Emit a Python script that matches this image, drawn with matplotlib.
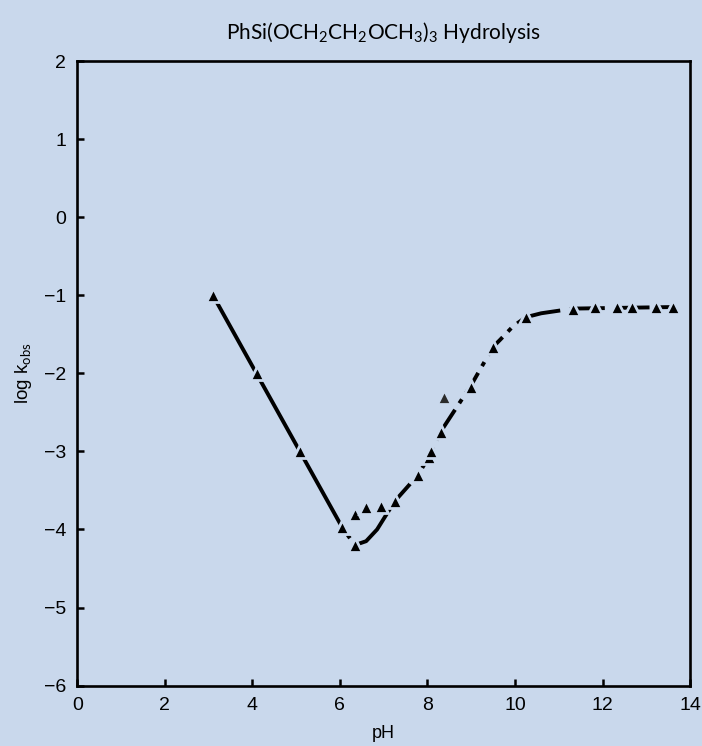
import numpy as np
import matplotlib.pyplot as plt

plt.rcParams["mathtext.fontset"] = "custom"
plt.rcParams["mathtext.rm"] = "Lato"
plt.rcParams["mathtext.default"] = "rm"

bg = "#c9d8ec"

# measured points (pH, log k_obs)
ph = [3.1, 4.1, 5.1, 6.05, 6.34, 6.34, 6.6, 6.95, 7.25, 7.79, 8.04, 8.09,
      8.30, 9.0, 9.5, 10.25, 11.33, 11.83, 12.32, 12.67, 13.23, 13.62]
logk = [-1.0, -2.0, -3.0, -3.97, -4.2, -3.8, -3.71, -3.70, -3.64, -3.30, -3.07, -3.0,
        -2.75, -2.17, -1.66, -1.28, -1.17, -1.15, -1.15, -1.15, -1.15, -1.15]

# stray grey point
ph_out = [8.38]
logk_out = [-2.30]

# fitted curve in pieces
acid_x = [3.1, 6.05]
acid_y = [-1.0, -3.97]
dip_x = [6.05, 6.34]
dip_y = [-3.97, -4.2]
bottom_x = [6.34, 6.6, 6.85, 7.05, 7.25]
bottom_y = [-4.2, -4.15, -4.0, -3.82, -3.64]
base_x = [7.25, 7.79, 8.05, 8.3, 9.0, 9.5, 9.66, 9.95, 10.25]
base_y = [-3.64, -3.30, -3.05, -2.75, -2.15, -1.66, -1.57, -1.40, -1.28]
flat_x = [10.25, 10.6, 11.33, 13.62]
flat_y = [-1.28, -1.23, -1.17, -1.15]

fig = plt.figure(figsize=(7.02, 7.46), dpi=100, facecolor=bg)
ax = fig.add_axes([0.11, 0.081, 0.873, 0.837], facecolor=bg)

lw = 2.8
ax.plot(acid_x, acid_y, color="black", lw=lw, solid_capstyle="butt")
ax.plot(dip_x, dip_y, color="black", lw=lw, linestyle=(0, (1, 1.5)))
ax.plot(bottom_x, bottom_y, color="black", lw=lw)
ax.plot(base_x, base_y, color="black", lw=lw, linestyle=(0, (6, 2, 1.2, 2)))
ax.plot(flat_x, flat_y, color="black", lw=lw, linestyle=(0, (9, 2.5)))

ax.plot(ph, logk, linestyle="none", marker="^", ms=10.5, color="black",
        markeredgecolor=bg, markeredgewidth=2.0, zorder=5)
ax.plot(ph_out, logk_out, linestyle="none", marker="^", ms=10.5, color="#2a2a2a",
        markeredgecolor=bg, markeredgewidth=2.0, zorder=5)

ax.set_xlim(0, 14)
ax.set_ylim(-6, 2)
ax.set_xticks(np.arange(0, 15, 2))
ax.set_yticks(np.arange(-6, 3, 1))
ax.tick_params(direction="in", length=5, width=1.8, labelsize=14, pad=8,
               top=False, right=False)
for lab in ax.get_xticklabels() + ax.get_yticklabels():
    lab.set_family("Liberation Sans")
for s in ax.spines.values():
    s.set_linewidth(1.9)

ax.set_xlabel("pH", fontsize=13, family="Liberation Sans", labelpad=8)
ax.set_ylabel("log k$_{obs}$", fontsize=13.5, family="Liberation Sans", labelpad=7)
ax.set_title("PhSi(OCH$_2$CH$_2$OCH$_3$)$_3$ Hydrolysis", fontsize=15,
             family="Lato", pad=16)

fig.savefig("out.png", dpi=100, facecolor=bg)
